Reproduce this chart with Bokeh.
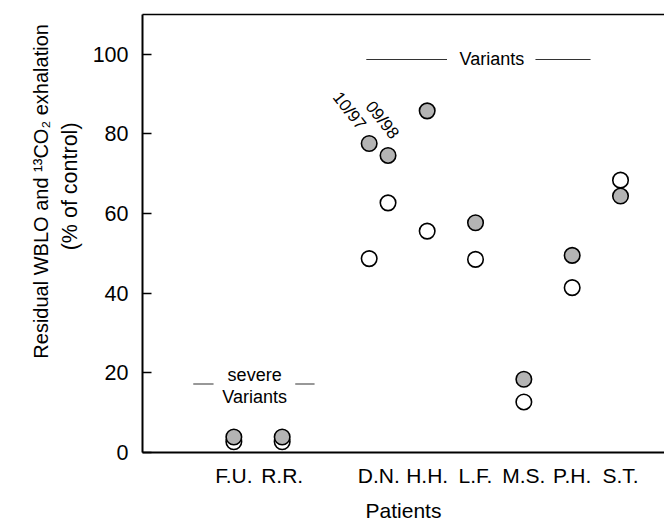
from bokeh.plotting import figure
from bokeh.models import Range1d, FixedTicker, LinearAxis, ColumnDataSource
from bokeh.layouts import row
from bokeh.embed import file_html
from bokeh.resources import INLINE
from bokeh.core.properties import value

# ---------------- data ----------------
patients = ["F.U.", "R.R.", "D.N.", "H.H.", "L.F.", "M.S.", "P.H.", "S.T."]
group_severe = ["F.U.", "R.R."]

point_patient = ["F.U.", "R.R.", "D.N.", "D.N.", "H.H.", "L.F.", "M.S.", "P.H.", "S.T."]
point_date = ["", "", "10/97", "09/98", "", "", "", "", ""]
filled_vals = [3.9, 3.9, 77.6, 74.6, 85.8, 57.7, 18.4, 49.5, 64.4]
open_vals = [2.7, 2.7, 48.7, 62.7, 55.6, 48.5, 12.7, 41.4, 68.4]

y_ticks = [0, 20, 40, 60, 80, 100]

y_title_1 = "Residual WBLO and \u00b9\u00b3CO\u2082 exhalation"
y_title_2 = "(% of control)"
x_title = "Patients"

FONT = "Liberation Sans"

# slot of each patient on the x axis (a gap separates the severe variants)
slot = {}
for i, name in enumerate(patients):
    slot[name] = i + (0 if name in group_severe else 1)

# dodge the two D.N. measurement dates
xs = []
for name, d in zip(point_patient, point_date):
    off = 0.0
    if d == "10/97":
        off = -0.2
    elif d == "09/98":
        off = 0.19
    xs.append(slot[name] + off)

src = ColumnDataSource(dict(x=xs, filled=filled_vals, open=open_vals, date=point_date))

# ---------------- left strip holding the y-axis title ----------------
LW = 85
H = 525
left = figure(width=LW, height=H, x_range=Range1d(0, LW), y_range=Range1d(0, H),
              x_axis_location=None, y_axis_location=None,
              output_backend="svg", toolbar_location=None, min_border=0)
left.grid.visible = False
left.outline_line_color = None
left.background_fill_color = "white"
left.border_fill_color = "white"
left.text(x=[40], y=[H - 212], text=[y_title_1],
          angle=90, angle_units="deg", text_align="center", text_baseline="middle",
          text_font=value(FONT), text_font_size="20px", text_color="black")
left.text(x=[69], y=[H - 206], text=[y_title_2],
          angle=90, angle_units="deg", text_align="center", text_baseline="middle",
          text_font=value(FONT), text_font_size="21.5px", text_color="black")

# ---------------- main plot ----------------
p = figure(frame_width=522, frame_height=438,
           x_range=Range1d(-1.89, 8.91), y_range=Range1d(0, 110),
           output_backend="svg", toolbar_location=None,
           min_border_left=142 - LW, min_border_right=0,
           min_border_top=14, min_border_bottom=73)
p.grid.visible = False
p.outline_line_color = None
p.background_fill_color = "white"
p.border_fill_color = "white"

# y axis
ya = p.yaxis[0]
ya.ticker = FixedTicker(ticks=y_ticks)
ya.major_tick_in = 9
ya.major_tick_out = 0
ya.minor_tick_line_color = None
ya.axis_line_width = 2
ya.major_tick_line_width = 1.5
ya.major_label_text_font = FONT
ya.major_label_text_font_size = "21.5px"
ya.major_label_text_color = "black"
ya.major_label_standoff = 14

# x axis
xa = p.xaxis[0]
xa.ticker = FixedTicker(ticks=[slot[n] for n in patients])
xa.major_label_overrides = {slot[n]: n for n in patients}
xa.major_tick_line_color = None
xa.minor_tick_line_color = None
xa.axis_line_width = 2
xa.major_label_text_font = FONT
xa.major_label_text_font_size = "21px"
xa.major_label_text_color = "black"
xa.major_label_standoff = 5
xa.axis_label = x_title
xa.axis_label_text_font = FONT
xa.axis_label_text_font_size = "21px"
xa.axis_label_text_font_style = "normal"
xa.axis_label_text_color = "black"
xa.axis_label_standoff = 9

# top frame line
top = LinearAxis(ticker=FixedTicker(ticks=[]), axis_line_width=1.5,
                 major_tick_line_color=None, minor_tick_line_color=None,
                 major_label_text_font_size="0px", major_tick_out=0,
                 major_label_standoff=0)
p.add_layout(top, "above")

# points
p.scatter("x", "open", source=src, marker="circle", size=15.5,
          fill_color="white", line_color="black", line_width=1.6)
p.scatter("x", "filled", source=src, marker="circle", size=15.5,
          fill_color="#b4b4b4", line_color="black", line_width=1.6)

# date labels for D.N.
dn_x = [x for x, d in zip(xs, point_date) if d]
dn_y = [v for v, d in zip(filled_vals, point_date) if d]
dn_t = [d for d in point_date if d]
p.text(x=[dn_x[0] - 0.41, dn_x[1] - 0.12], y=[dn_y[0] + 8.2, dn_y[1] + 8.9], text=dn_t,
       angle=-52, angle_units="deg", text_align="center", text_baseline="middle",
       text_font=value(FONT), text_font_size="17px", text_color="black")

# group annotations
p.text(x=[5.34], y=[98.7], text=["Variants"], text_align="center", text_baseline="middle",
       text_font=value(FONT), text_font_size="18px", text_color="black")
p.segment(x0=[2.74, 6.24], y0=[98.7, 98.7], x1=[4.41, 7.38], y1=[98.7, 98.7],
          line_color="#333333", line_width=1.2)

p.text(x=[0.43, 0.43], y=[19.4, 14.0], text=["severe", "Variants"], text_align="center",
       text_baseline="middle", text_font=value(FONT), text_font_size="18px", text_color="black")
p.segment(x0=[-0.84, 1.27], y0=[17.2, 17.2], x1=[-0.42, 1.67], y1=[17.2, 17.2],
          line_color="#333333", line_width=1.2)

layout = row(left, p)
open("out.html", "w").write(file_html(layout, INLINE))
